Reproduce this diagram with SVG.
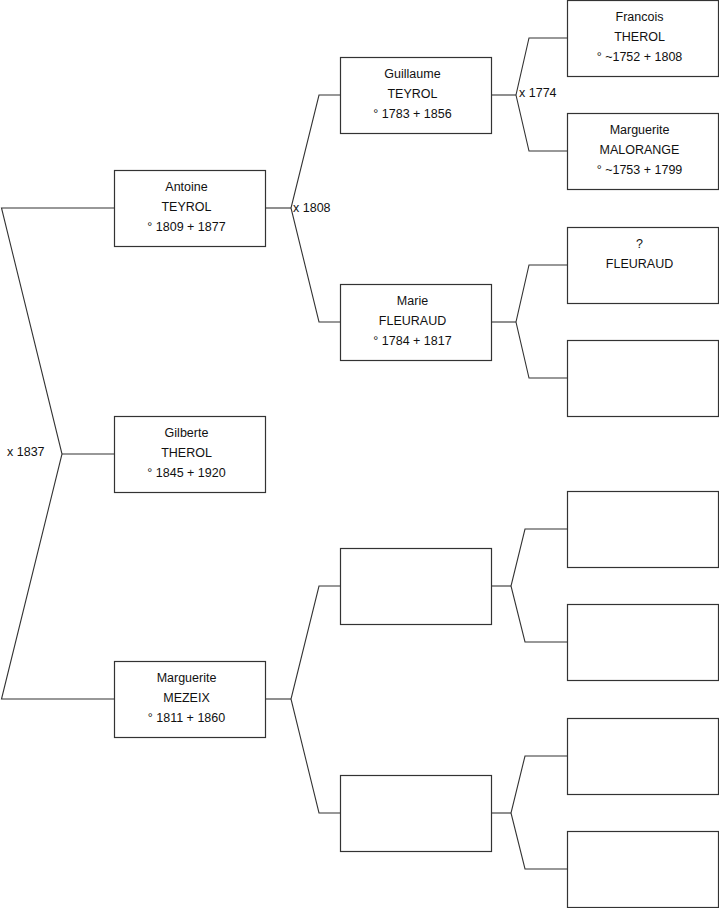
<svg xmlns="http://www.w3.org/2000/svg" width="719" height="908" viewBox="0 0 719 908">
<style>
rect.box{fill:#fff;stroke:#333;stroke-width:1.2}
.c{fill:none;stroke:#333;stroke-width:1.1}
text{font-family:"Liberation Sans",Arial,sans-serif;font-size:12.5px;fill:#111}
.m{text-anchor:middle}
</style>
<rect width="719" height="908" fill="#fff"/>
<g id="connectors">
<polyline class="c" points="114,208 1.5,208 62,454 1.5,699 114,699"/>
<line class="c" x1="62" y1="454" x2="114" y2="454"/>
<polyline class="c" points="340,95 319,95 291,208 319,322 340,322"/>
<line class="c" x1="265" y1="208" x2="291" y2="208"/>
<polyline class="c" points="340,586 319,586 291,699 319,813 340,813"/>
<line class="c" x1="265" y1="699" x2="291" y2="699"/>
<polyline class="c" points="567,38 529,38 516,95 529,151 567,151"/>
<line class="c" x1="492" y1="95" x2="516" y2="95"/>
<polyline class="c" points="567,265 529,265 516,322 529,378 567,378"/>
<line class="c" x1="492" y1="322" x2="516" y2="322"/>
<polyline class="c" points="567,529 525,529 511,586 525,642 567,642"/>
<line class="c" x1="492" y1="586" x2="511" y2="586"/>
<polyline class="c" points="567,756 525,756 511,813 525,869 567,869"/>
<line class="c" x1="492" y1="813" x2="511" y2="813"/>
<text x="7" y="456">x 1837</text>
<text x="293" y="212">x 1808</text>
<text x="519" y="97">x 1774</text>
</g>
<g id="gilberte"><rect class="box" x="114.5" y="416.5" width="151" height="76"/>
<text class="m" x="186.5" y="437">Gilberte</text><text class="m" x="186.5" y="457">THEROL</text><text class="m" x="186.5" y="477">° 1845 + 1920</text></g>
<g id="antoine"><rect class="box" x="114.5" y="170.5" width="151" height="76"/>
<text class="m" x="186.5" y="191">Antoine</text><text class="m" x="186.5" y="211">TEYROL</text><text class="m" x="186.5" y="231">° 1809 + 1877</text></g>
<g id="marguerite-mezeix"><rect class="box" x="114.5" y="661.5" width="151" height="76"/>
<text class="m" x="186.5" y="682">Marguerite</text><text class="m" x="186.5" y="702">MEZEIX</text><text class="m" x="186.5" y="722">° 1811 + 1860</text></g>
<g id="guillaume"><rect class="box" x="340.5" y="57.5" width="151" height="76"/>
<text class="m" x="412.5" y="78">Guillaume</text><text class="m" x="412.5" y="98">TEYROL</text><text class="m" x="412.5" y="118">° 1783 + 1856</text></g>
<g id="marie"><rect class="box" x="340.5" y="284.5" width="151" height="76"/>
<text class="m" x="412.5" y="305">Marie</text><text class="m" x="412.5" y="325">FLEURAUD</text><text class="m" x="412.5" y="345">° 1784 + 1817</text></g>
<g id="empty-g3a"><rect class="box" x="340.5" y="548.5" width="151" height="76"/></g>
<g id="empty-g3b"><rect class="box" x="340.5" y="775.5" width="151" height="76"/></g>
<g id="francois"><rect class="box" x="567.5" y="0.5" width="151" height="76"/>
<text class="m" x="639.5" y="21">Francois</text><text class="m" x="639.5" y="41">THEROL</text><text class="m" x="639.5" y="61">° ~1752 + 1808</text></g>
<g id="marguerite-malorange"><rect class="box" x="567.5" y="113.5" width="151" height="76"/>
<text class="m" x="639.5" y="134">Marguerite</text><text class="m" x="639.5" y="154">MALORANGE</text><text class="m" x="639.5" y="174">° ~1753 + 1799</text></g>
<g id="fleuraud"><rect class="box" x="567.5" y="227.5" width="151" height="76"/>
<text class="m" x="639.5" y="248">?</text><text class="m" x="639.5" y="268">FLEURAUD</text></g>
<g id="empty-g4a"><rect class="box" x="567.5" y="340.5" width="151" height="76"/></g>
<g id="empty-g4b"><rect class="box" x="567.5" y="491.5" width="151" height="76"/></g>
<g id="empty-g4c"><rect class="box" x="567.5" y="604.5" width="151" height="76"/></g>
<g id="empty-g4d"><rect class="box" x="567.5" y="718.5" width="151" height="76"/></g>
<g id="empty-g4e"><rect class="box" x="567.5" y="831.5" width="151" height="76"/></g>
</svg>
